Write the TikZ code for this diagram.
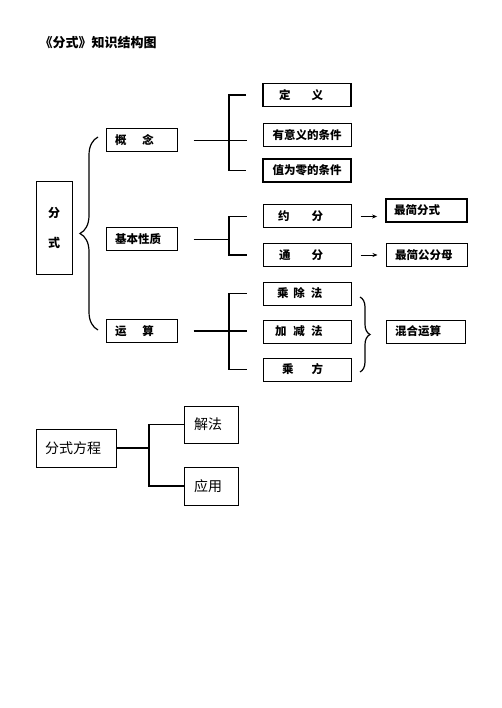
\documentclass[tikz,border=0pt]{standalone}
\usepackage{fontspec}
\setmainfont{Noto Sans CJK SC}
\usetikzlibrary{arrows.meta,decorations.pathreplacing}

\begin{document}
\begin{tikzpicture}[x=1pt,y=-1pt,
  box/.style={draw,line width=1pt,inner sep=0pt,align=left,font=\bfseries\fontsize{11.5}{14}\selectfont},
  lbox/.style={box,text width=71pt,minimum height=23pt},
  rbox/.style={box,text width=88pt,minimum height=23pt},
  ebox/.style={box,text width=80pt,minimum height=23pt},
  qbox/.style={box,font=\fontsize{14}{16}\selectfont},
  bar/.style={line width=1.3pt},
  curly/.style={line width=1.2pt,decorate,decoration={brace,amplitude=#1}},
  arr/.style={-{Stealth[length=5pt,width=4pt]},line width=1pt}]
\useasboundingbox (0,0) rectangle (502,708);
\node[anchor=west,font=\bfseries\fontsize{13}{15}\selectfont] (title) at (36,43) {《分式》知识结构图};

% left column
\node[box,align=center,text width=36pt,minimum height=92pt,font=\bfseries\fontsize{12}{30}\selectfont] (fs) at (54,228) {分\\式};
\node[lbox] (gn) at (141.5,140.5) {\hspace*{9pt}概\hspace{16pt}念};
\node[lbox] (jb) at (141.5,239.5) {\hspace*{9pt}基本性质};
\node[lbox] (ys) at (141.5,331) {\hspace*{9pt}运\hspace{16pt}算};

% middle column
\node[rbox,line width=1.8pt] (dy) at (307,95) {\hspace*{16pt}定\hspace{21pt}义};
\node[rbox,align=center] (yy) at (307,135) {有意义的条件};
\node[rbox,align=center,line width=1.8pt] (zl) at (307,170.5) {值为零的条件};
\node[rbox] (yf) at (307,216.5) {\hspace*{15pt}约\hspace{22pt}分};
\node[rbox] (tf) at (307,255) {\hspace*{16pt}通\hspace{21pt}分};
\node[rbox] (cc) at (307,293.5) {\hspace*{14pt}乘\hspace{5pt}除\hspace{6pt}法};
\node[rbox] (jj) at (307,331.5) {\hspace*{12pt}加\hspace{7pt}减\hspace{6pt}法};
\node[rbox] (cf) at (307,369.5) {\hspace*{19pt}乘\hspace{18pt}方};

% right column
\node[ebox,text width=81pt,line width=1.8pt] (zj) at (426.5,210.5) {\hspace*{8pt}最简分式};
\node[ebox,text width=81pt] (gm) at (426.5,255) {\hspace*{9pt}最简公分母};
\node[ebox,text width=79pt] (hh) at (425.5,331.5) {\hspace*{9pt}混合运算};

% equations
\node[qbox,text width=80pt,minimum height=38pt] (fc) at (76,448) {\hspace*{9pt}分式方程};
\node[qbox,text width=54pt,minimum height=37pt] (jf) at (211,424.5) {\hspace*{10pt}解法};
\node[qbox,text width=54pt,minimum height=38pt] (yg) at (211,486) {\hspace*{10pt}应用};

% brackets
\coordinate (s1) at (229,0);
\coordinate (s2) at (149,0);
\draw[bar] ([xshift=-16pt]dy.west) -- (dy.west -| s1) -- (zl.west -| s1) -- ([xshift=-16pt]zl.west);
\draw[bar] ([xshift=16pt]gn.east) -- ([xshift=-16pt]gn.east -| yy.west);
\draw[bar] ([xshift=-16pt]yf.west) -- (yf.west -| s1) -- (tf.west -| s1) -- ([xshift=-16pt]tf.west);
\draw[bar] ([xshift=16pt]jb.east) -- (jb.east -| s1);
\draw[bar] ([xshift=-16pt]cc.west) -- (cc.west -| s1) -- (cf.west -| s1) -- ([xshift=-16pt]cf.west);
\draw[bar] ([xshift=16pt]ys.east) -- ([xshift=-16pt]ys.east -| jj.west);
\draw[bar] (jf.west) -- (jf.west -| s2) -- (yg.west -| s2) -- (yg.west);
\draw[bar] (fc.east) -- (fc.east -| s2);

% arrows
\draw[arr,shorten <=9pt,shorten >=8pt] (yf.east) -- (yf.east -| zj.west);
\draw[arr,shorten <=9pt,shorten >=8pt] (tf.east) -- (tf.east -| gm.west);

% braces
\coordinate (bt) at (98,137);
\coordinate (bb) at (98,330);
\coordinate (rt) at (360,297);
\coordinate (rb) at (360,372);
\draw[curly=18pt] (bb) -- (bt);
\draw[curly=10pt] (rt) -- (rb);
\end{tikzpicture}
\end{document}
